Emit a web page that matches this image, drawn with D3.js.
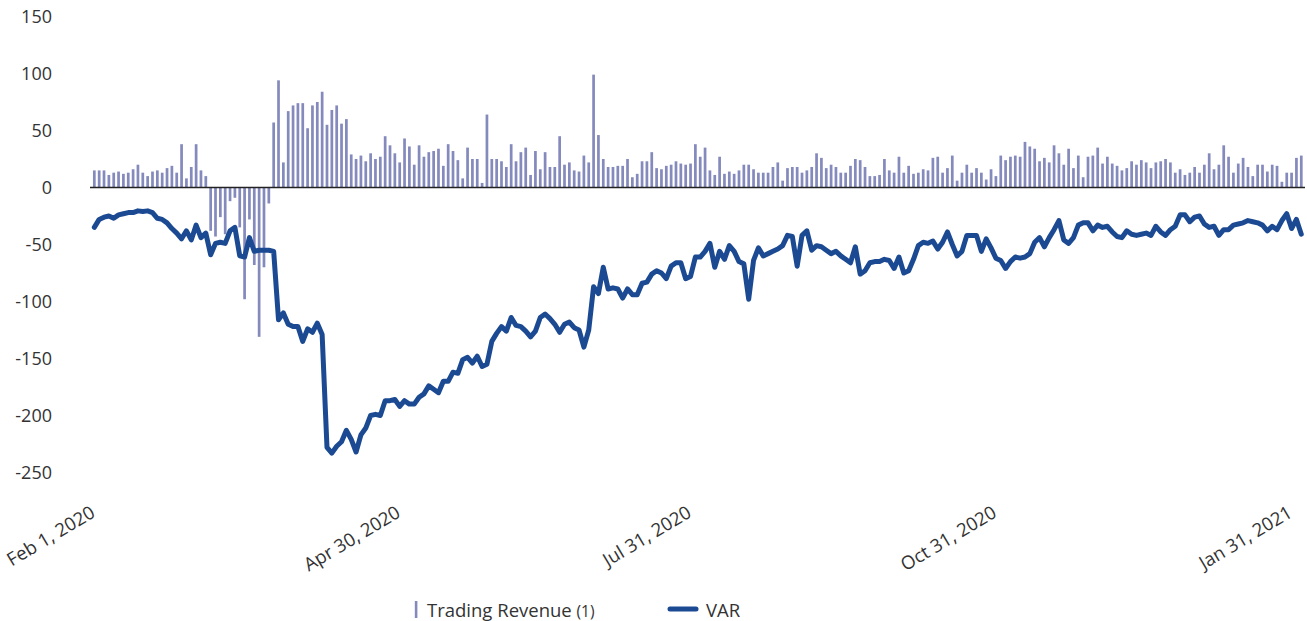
<!DOCTYPE html>
<html>
<head>
<meta charset="utf-8">
<script src="https://cdn.jsdelivr.net/npm/d3@7"></script>
<style>
  html, body { margin: 0; padding: 0; background: #ffffff; }
  svg { display: block; }
  text { font-family: "Open Sans", "Noto Sans", sans-serif; fill: #333333; }
</style>
</head>
<body>
<svg id="chart" width="1307" height="621"></svg>
<script>
// ---- data ----
const tradingRevenue = [
  15,15,15,11,13,14,12,13,16,20,13,10,14,15,13,17,19,13,38,8,18,38,15,10,-38,-43,-26,-41,-12,-9,-35,-98,-28,-68,-131,-70,-14,57,94,22,67,
  72,74,74,52,72,75,84,55,68,72,56,60,29,25,28,23,30,25,27,45,37,30,22,43,36,20,37,27,31,32,34,19,38,32,24,8,35,25,
  25,4,64,25,25,23,18,38,23,31,35,11,32,16,31,18,18,45,20,22,15,14,28,22,99,46,25,18,18,19,19,25,9,12,23,23,31,17,16,19,20,
  23,21,20,21,38,27,35,15,11,27,12,14,12,15,20,20,16,13,13,13,18,22,6,17,18,18,13,15,18,30,26,17,20,18,13,13,19,25,24,18,
  10,10,11,25,15,13,27,13,19,12,13,16,15,26,27,13,17,28,6,13,20,13,17,13,7,16,10,28,24,27,28,27,40,36,34,23,26,22,37,30,20,
  34,17,28,9,27,28,35,21,27,21,19,15,17,23,20,24,22,17,22,23,25,22,13,16,11,13,18,13,20,30,16,20,37,27,13,21,26,18,10,20,20,14,20,19,5,13,13,26,28
];
const varValues = [
  -35,-28,-26,-25,-27,-24,-23,-22,-22,-20.5,-21,-20.5,-22,-27,-28,-31,-36,-40,-45,-38,-46,-33,-44,-40,-59,-49,-48,-49,-38,-35,-60,-61,-44,-56,-55,-55,-55,-56,-116,-110,-120,
  -122,-122,-135,-124,-127,-119,-129,-228,-233,-227,-223,-213,-221,-232,-217,-211,-200,-199,-200,-187,-187,-186,-192,-187,-190,-190,-184,-181,-174,-177,-180,-170,-170,-162,-163,-151,-149,-154,
  -148,-157,-155,-135,-128,-122,-126,-114,-121,-122,-126,-131,-126,-114,-111,-115,-120,-127,-120,-118,-123,-125,-140,-125,-87,-93,-70,-89,-88,-89,-97,-89,-94,-94,-84,-83,-76,-73,-75,-80,-69,
  -66,-66,-80,-78,-61,-61,-56,-49,-70,-56,-63,-51,-56,-65,-67,-98,-64,-53,-60,-58,-56,-54,-51,-42,-43,-69,-42,-38,-55,-51,-52,-55,-58,-56,-60,-63,-66,-52,-76,-73,
  -66,-65,-65,-63,-64,-71,-61,-75,-73,-63,-51,-48,-49,-47,-54,-48,-39,-50,-60,-56,-42,-42,-42,-56,-45,-53,-62,-64,-71,-65,-61,-62,-61,-58,-48,-44,-52,-44,-37,-29,-46,
  -49,-44,-33,-31,-31,-38,-33,-35,-34,-39,-43,-44,-38,-41,-42,-41,-40,-42,-34,-39,-42,-37,-34,-24,-24,-30,-26,-25,-32,-35,-34,-42,-37,-37,-33,-32,-31,-29,-30,-31,-33,-38,-34,-37,-29,-23,-36,-28,-41
];
const xTickIndex = [0, 63, 123, 186, 247];
const xTickLabels = ["Feb 1, 2020", "Apr 30, 2020", "Jul 31, 2020", "Oct 31, 2020", "Jan 31, 2021"];
const yTicks = [150, 100, 50, 0, -50, -100, -150, -200, -250];
const seriesNames = ["Trading Revenue", "VAR"];

// ---- styles ----
const barColor = "#858abd";
const lineColor = "#1b4a93";

const svg = d3.select("#chart");
const idx = d3.range(tradingRevenue.length);

const x = d3.scaleBand()
  .domain(idx)
  .range([91.9, 1303.7])
  .paddingInner(0.44)
  .paddingOuter(0.22);

const y = d3.scaleLinear()
  .domain([-250, 150])
  .range([472.5, 16.5]);

// y axis labels (no line, no ticks)
const yAxis = d3.axisLeft(y).tickValues(yTicks).tickSize(0).tickPadding(0).tickFormat(d3.format("d"));
const gy = svg.append("g").attr("transform", "translate(52,0)").call(yAxis);
gy.select(".domain").remove();
gy.selectAll("text")
  .attr("font-family", "'Open Sans', sans-serif")
  .attr("font-size", 18)
  .attr("fill", "#333")
  .attr("dy", "0.34em")
  .text(d => d < 0 ? "-" + Math.abs(d) : d);

// bars
svg.append("g").selectAll("rect")
  .data(idx)
  .join("rect")
  .attr("x", i => x(i))
  .attr("width", x.bandwidth())
  .attr("y", i => y(Math.max(0, tradingRevenue[i])))
  .attr("height", i => Math.abs(y(tradingRevenue[i]) - y(0)))
  .attr("fill", barColor);

// zero line
svg.append("line")
  .attr("x1", 90).attr("x2", 1305)
  .attr("y1", y(0)).attr("y2", y(0))
  .attr("stroke", "#222").attr("stroke-width", 1.6);

// VAR line
const line = d3.line()
  .x(i => x(i) + x.bandwidth() / 2)
  .y(i => y(varValues[i]));
svg.append("path")
  .datum(idx)
  .attr("d", line)
  .attr("fill", "none")
  .attr("stroke", lineColor)
  .attr("stroke-width", 5)
  .attr("stroke-linejoin", "round")
  .attr("stroke-linecap", "round");

// x labels
svg.append("g").selectAll("text")
  .data(xTickIndex)
  .join("text")
  .attr("transform", i => `translate(${x(i) + x.bandwidth() / 2 + 2},516) rotate(-31)`)
  .attr("text-anchor", "end")
  .attr("font-size", 18.5)
  .text((i, k) => xTickLabels[k]);

// legend
const lg = svg.append("g");
lg.append("rect").attr("x", 414.8).attr("y", 601).attr("width", 2.6).attr("height", 17).attr("fill", barColor);
const t1 = lg.append("text").attr("x", 427).attr("y", 617).attr("font-size", 18.5);
t1.append("tspan").text(seriesNames[0] + " ");
t1.append("tspan").attr("font-size", 15.5).text("(1)");
lg.append("line").attr("x1", 670).attr("x2", 696).attr("y1", 609).attr("y2", 609)
  .attr("stroke", lineColor).attr("stroke-width", 5).attr("stroke-linecap", "round");
lg.append("text").attr("x", 706).attr("y", 617).attr("font-size", 18.5).text(seriesNames[1]);
</script>
</body>
</html>
